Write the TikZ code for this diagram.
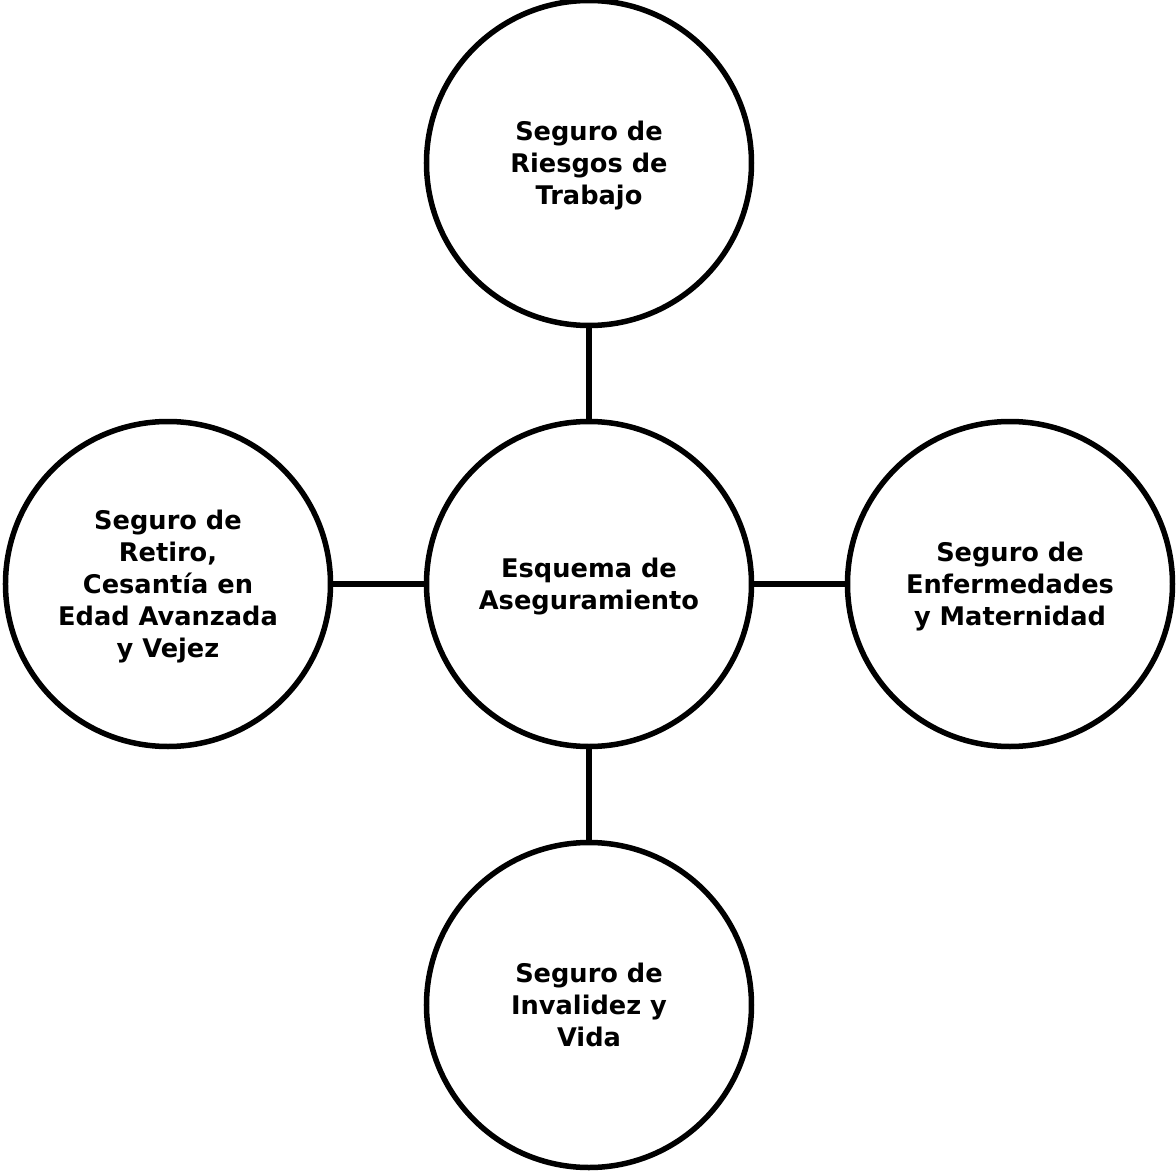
\documentclass[tikz,border=0pt]{standalone}
\usepackage{fontspec}
\setmainfont{DejaVu Sans}
\usetikzlibrary{positioning}

\begin{document}
\begin{tikzpicture}[node distance=8.42cm,on grid,
  seguro/.style={circle,draw,line width=0.11cm,minimum size=6.5cm,align=center,
    font=\fontsize{14.6}{18.2}\selectfont\bfseries,text depth=-0.05cm}]
  \useasboundingbox (-11.78,11.68) rectangle (11.74,-11.72);
  \node[seguro]           (esquema)                  {Esquema de\\Aseguramiento};
  \node[seguro]           (riesgos) [above=of esquema] {Seguro de\\Riesgos de\\Trabajo};
  \node[seguro]           (invalidez) [below=of esquema] {Seguro de\\Invalidez y\\Vida};
  \node[seguro]           (retiro) [left=of esquema]  {Seguro de\\Retiro,\\Cesantía en\\Edad Avanzada\\y Vejez};
  \node[seguro]           (enfermedades) [right=of esquema] {Seguro de\\Enfermedades\\y Maternidad};
  \path[line width=0.11cm] (esquema) edge (riesgos)
  			(esquema) edge (invalidez)
  			(esquema) edge (retiro)
  			(esquema) edge (enfermedades);
\end{tikzpicture}
\end{document}
